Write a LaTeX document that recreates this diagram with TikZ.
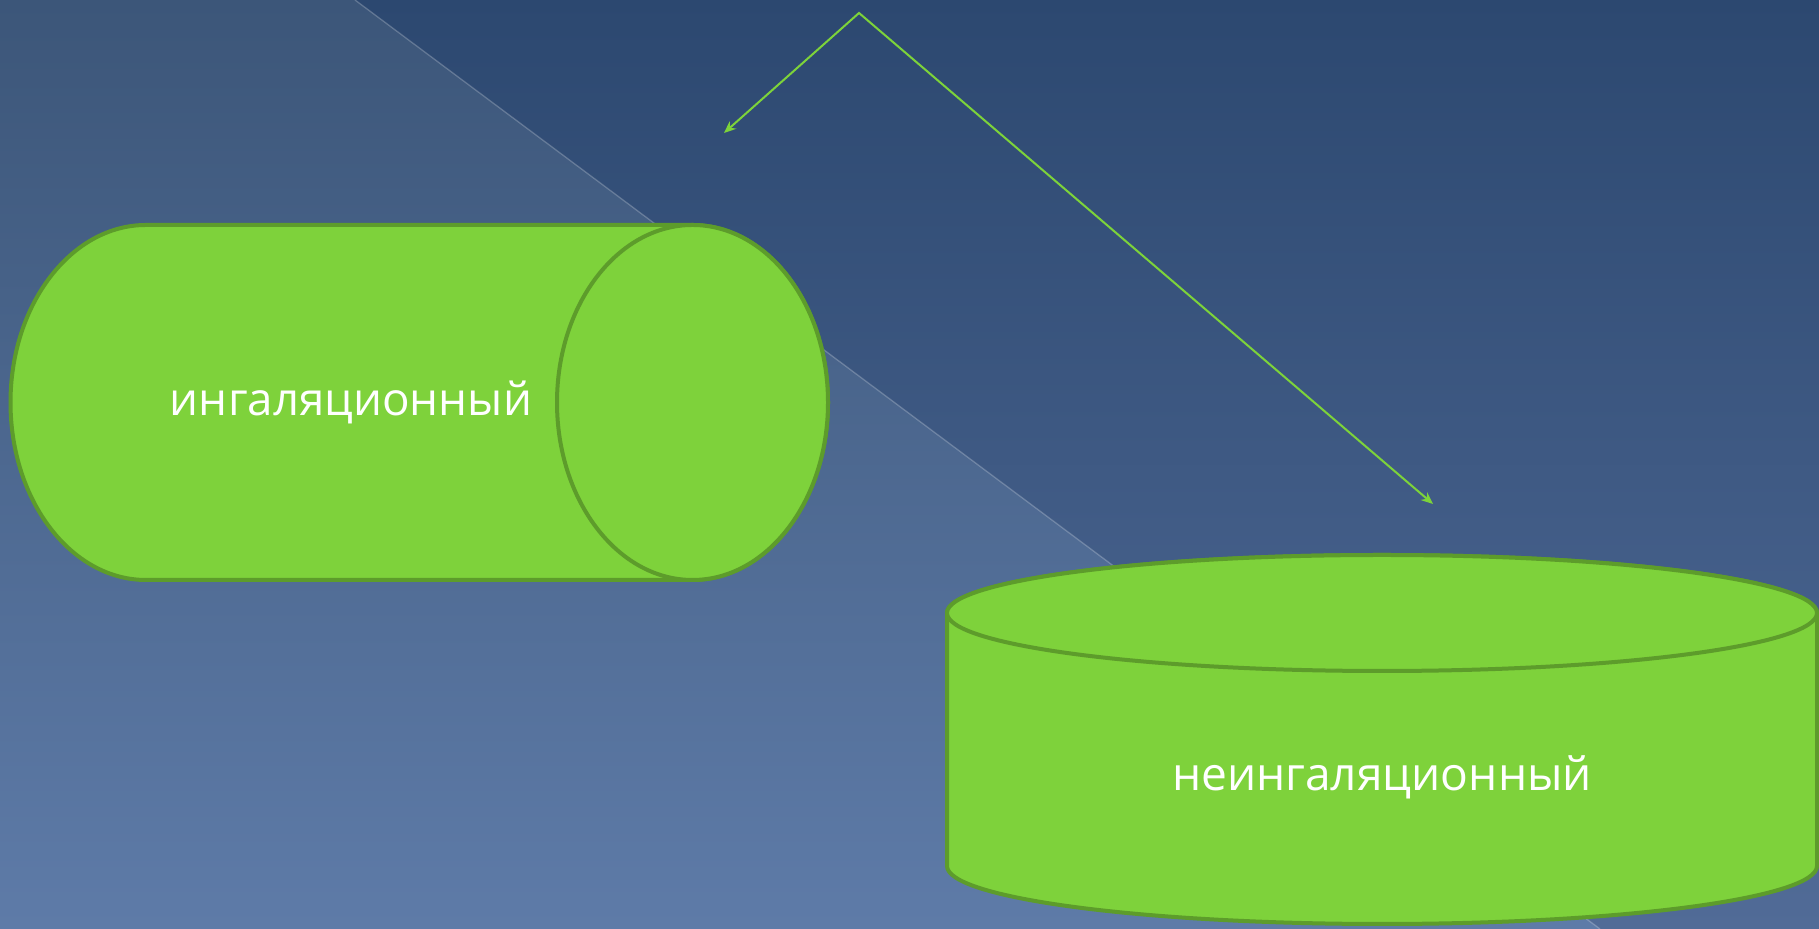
\documentclass[tikz,border=0pt]{standalone}
\usepackage{fontspec}
\setmainfont{Open Sans}
\usetikzlibrary{arrows.meta}

\definecolor{darkTop}{HTML}{2C4870}
\definecolor{darkMid}{HTML}{35527E}
\definecolor{darkBot}{HTML}{516B97}
\definecolor{lightTop}{HTML}{3C5679}
\definecolor{lightMid}{HTML}{425C86}
\definecolor{lightBot}{HTML}{5E7BA8}
\definecolor{limeFill}{HTML}{7ED23B}
\definecolor{limeEdge}{HTML}{5D9C2B}
\definecolor{limeArrow}{HTML}{7DD33A}

\begin{document}
\begin{tikzpicture}[x=0.5pt,y=0.5pt,
  solid3d/.style={fill=limeFill, draw=limeEdge, line width=2pt},
  lbl/.style={text=white, inner sep=0pt},
  pointer/.style={draw=limeArrow, line width=1pt, line join=miter,
    {Stealth[length=6pt,width=5pt,inset=2pt]}-{Stealth[length=6pt,width=5pt,inset=2pt]}},
  seam/.style={draw=white, draw opacity=0.22, line width=0.65pt}]
\useasboundingbox (0,0) rectangle (1819,929);

% backdrop: two tinted panels split by a thin diagonal
\shade[top color=darkTop, middle color=darkMid, bottom color=darkBot]
  (0,0) rectangle (1819,929);
\shade[top color=lightTop, middle color=lightMid, bottom color=lightBot]
  (0,929) -- (355,929) -- (1600,0) -- (0,0) -- cycle;
\coordinate (seamA) at (355,929);
\coordinate (seamB) at (1600,0);
\path[seam] (seamA) -- (seamB);

% horizontal cylinder
\path[solid3d] (146,704) -- (692.5,704)
  arc[start angle=90, end angle=-90, x radius=67.75pt, y radius=88.75pt]
  -- (146,349)
  arc[start angle=270, end angle=90, x radius=67.75pt, y radius=88.75pt]
  -- cycle;
\path[solid3d] (692.5,526.5) ellipse [x radius=67.75pt, y radius=88.75pt];
\node[lbl] (inh) at (351,526.5) {\resizebox{181pt}{!}{ингаляционный}};

% upright cylinder
\path[solid3d] (947,316) -- (947,63)
  arc[start angle=180, end angle=360, x radius=217.5pt, y radius=29pt]
  -- (1817,316)
  arc[start angle=0, end angle=180, x radius=217.5pt, y radius=29pt]
  -- cycle;
\path[solid3d] (1382,316) ellipse [x radius=217.5pt, y radius=29pt];
\node[lbl] (noninh) at (1382,152) {\resizebox{210pt}{!}{неингаляционный}};

% branching pointer
\coordinate (apex) at (859,916);
\coordinate (tipL) at (724,796);
\coordinate (tipR) at (1433,425);
\path[pointer] (tipL) -- (apex) -- (tipR);
\end{tikzpicture}
\end{document}
